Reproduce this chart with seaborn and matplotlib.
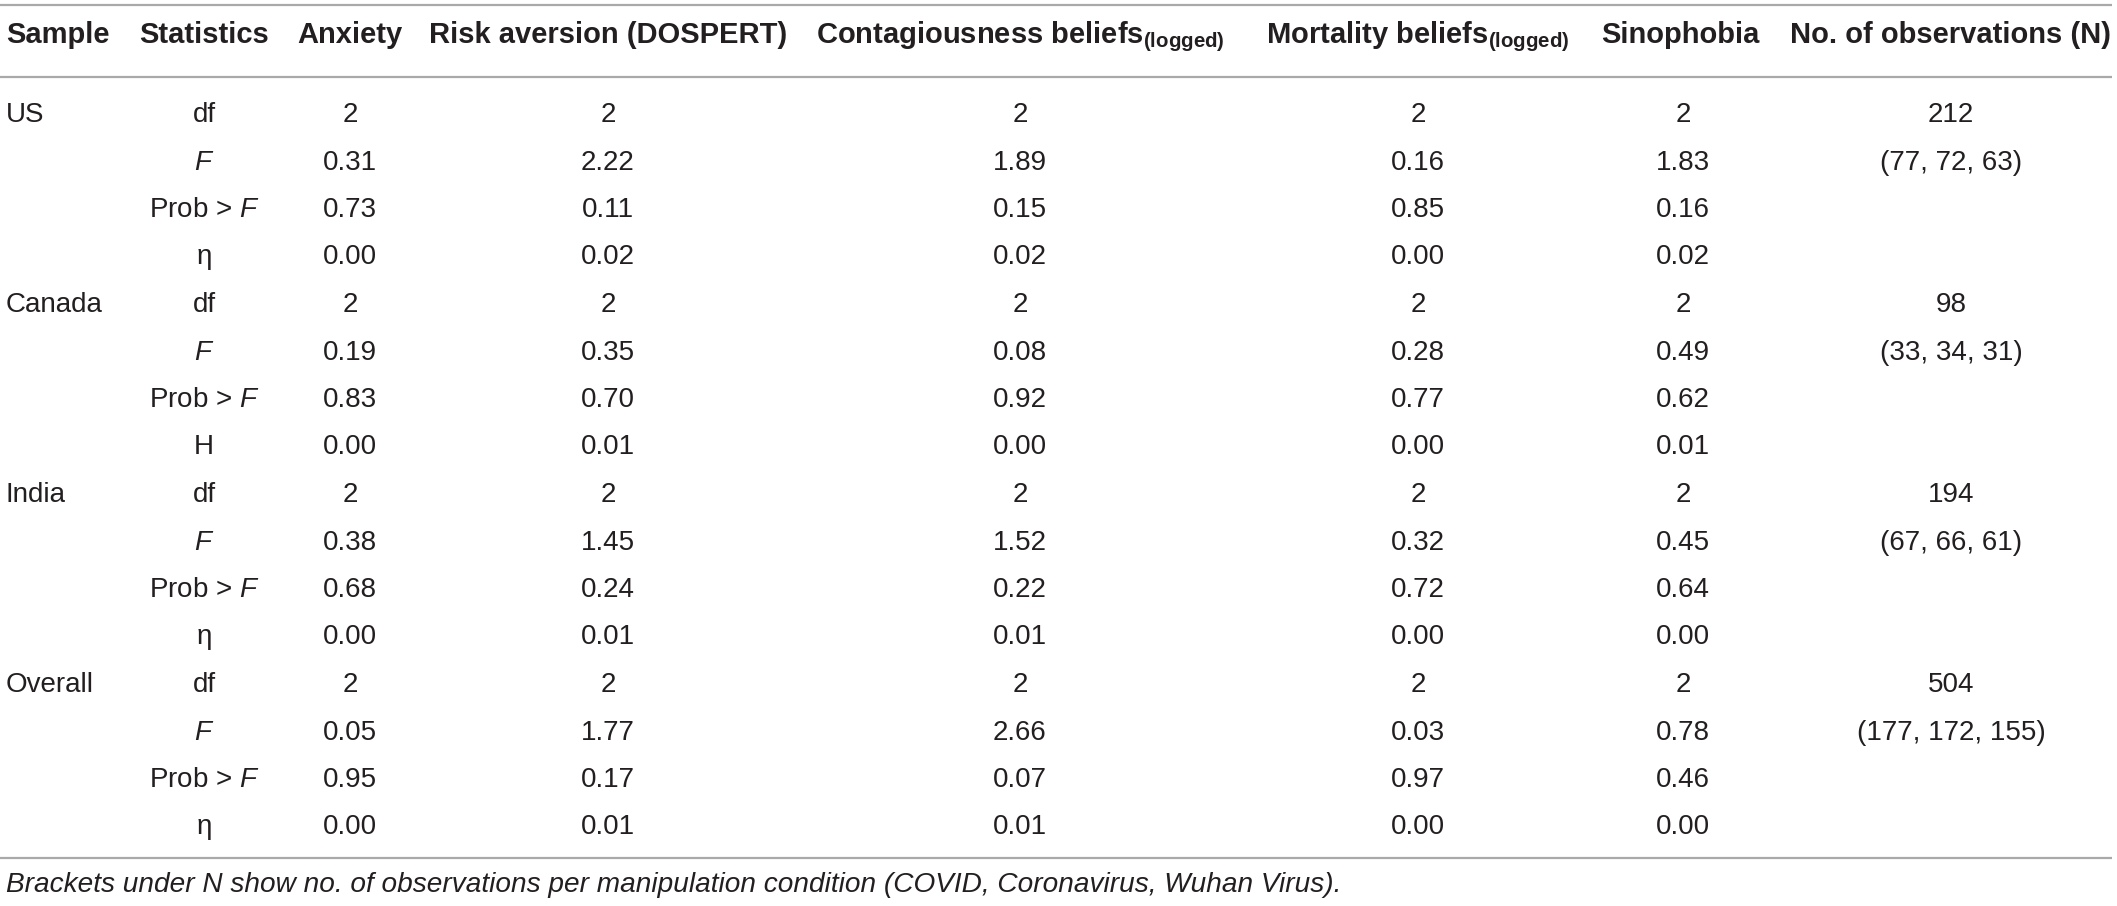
import numpy as np
import pandas as pd
import seaborn as sns
import matplotlib.pyplot as plt

# table values
samples = ["US", "Canada", "India", "Overall"]
stat_labels = [["df", "$\\mathit{F}$", "Prob > $\\mathit{F}$", "η"],
               ["df", "$\\mathit{F}$", "Prob > $\\mathit{F}$", "H"],
               ["df", "$\\mathit{F}$", "Prob > $\\mathit{F}$", "η"],
               ["df", "$\\mathit{F}$", "Prob > $\\mathit{F}$", "η"]]

df_vals = [2, 2, 2, 2]

anxiety_F = [0.31, 0.19, 0.38, 0.05]
anxiety_p = [0.73, 0.83, 0.68, 0.95]
anxiety_eta = [0.00, 0.00, 0.00, 0.00]

risk_F = [2.22, 0.35, 1.45, 1.77]
risk_p = [0.11, 0.70, 0.24, 0.17]
risk_eta = [0.02, 0.01, 0.01, 0.01]

contag_F = [1.89, 0.08, 1.52, 2.66]
contag_p = [0.15, 0.92, 0.22, 0.07]
contag_eta = [0.02, 0.00, 0.01, 0.01]

mort_F = [0.16, 0.28, 0.32, 0.03]
mort_p = [0.85, 0.77, 0.72, 0.97]
mort_eta = [0.00, 0.00, 0.00, 0.00]

sino_F = [1.83, 0.49, 0.45, 0.78]
sino_p = [0.16, 0.62, 0.64, 0.46]
sino_eta = [0.02, 0.01, 0.00, 0.00]

n_total = [212, 98, 194, 504]
n_cond = [(77, 72, 63), (33, 34, 31), (67, 66, 61), (177, 172, 155)]

headers = ["Sample", "Statistics", "Anxiety", "Risk aversion (DOSPERT)",
           "Contagiousness beliefs$_{\\mathbf{(logged)}}$",
           "Mortality beliefs$_{\\mathbf{(logged)}}$",
           "Sinophobia", "No. of observations (N)"]
footnote = ("Brackets under N show no. of observations per manipulation "
            "condition (COVID, Coronavirus, Wuhan Virus).")

# build the long table
measures = {
    "Anxiety": (anxiety_F, anxiety_p, anxiety_eta),
    "Risk": (risk_F, risk_p, risk_eta),
    "Contag": (contag_F, contag_p, contag_eta),
    "Mort": (mort_F, mort_p, mort_eta),
    "Sino": (sino_F, sino_p, sino_eta),
}
rows = []
for i, s in enumerate(samples):
    for j in range(4):
        r = {"Sample": s if j == 0 else "", "Statistics": stat_labels[i][j]}
        for k, (F, p, eta) in measures.items():
            r[k] = [str(df_vals[i]), f"{F[i]:.2f}", f"{p[i]:.2f}", f"{eta[i]:.2f}"][j]
        if j == 0:
            r["N"] = str(n_total[i])
        elif j == 1:
            r["N"] = "(" + ", ".join(str(v) for v in n_cond[i]) + ")"
        else:
            r["N"] = ""
        rows.append(r)
table = pd.DataFrame(rows)

sns.set_theme(style="white")
plt.rcParams['font.family'] = ['Liberation Sans', 'DejaVu Sans']
plt.rcParams['mathtext.fontset'] = 'custom'
plt.rcParams['mathtext.rm'] = 'Liberation Sans'
plt.rcParams['mathtext.it'] = 'Liberation Sans:italic'
plt.rcParams['mathtext.bf'] = 'Liberation Sans:bold'

W, H = 2117, 906
fig = plt.figure(figsize=(W / 100, H / 100), dpi=100)
ax = fig.add_axes([0, 0, 1, 1])
ax.set_xlim(0, W)
ax.set_ylim(H, 0)
ax.axis("off")

txt = "#231f20"
line_c = "#a9a9a9"
cols = ["Sample", "Statistics", "Anxiety", "Risk", "Contag", "Mort", "Sino", "N"]
col_x = [6, 204, 350, 608, 1020, 1418, 1683, 1951]
head_x = [6, 204, 350, 608, 1020, 1418, 1680, 1951]

for h, x in zip(headers, head_x):
    ax.text(x, 43, h, ha="left" if x == 6 else "center", va="baseline",
            fontsize=21, fontweight="bold", color=txt)

for i, r in table.iterrows():
    yb = 122 + 47.5 * i
    for c, x in zip(cols, col_x):
        if r[c] == "":
            continue
        ax.text(x, yb, r[c], ha="left" if c == "Sample" else "center",
                va="baseline", fontsize=20, color=txt)

for y in [5, 77, 858]:
    ax.plot([0, 2112], [y, y], color=line_c, lw=1.6, solid_capstyle="butt")

ax.text(6, 892, footnote, ha="left", va="baseline", fontsize=20.2,
        fontstyle="italic", color=txt)

fig.savefig("out.png", dpi=100)
